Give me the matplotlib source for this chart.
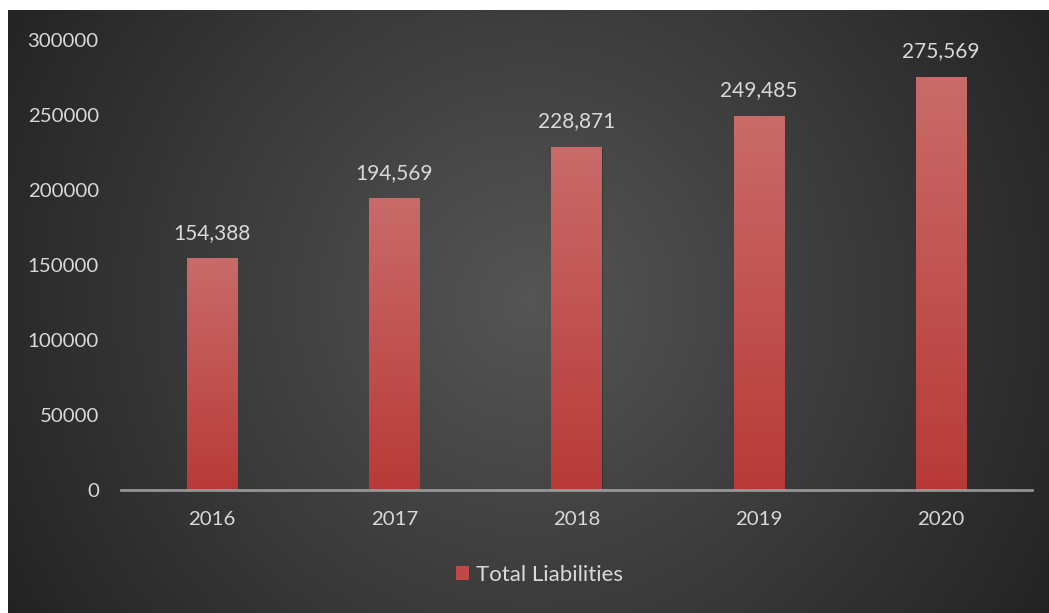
import numpy as np
import matplotlib
matplotlib.use("Agg")
import matplotlib.pyplot as plt
from matplotlib import patheffects as pe
from matplotlib.colors import LinearSegmentedColormap

years = ["2016", "2017", "2018", "2019", "2020"]
liabilities = [154388, 194569, 228871, 249485, 275569]
yticks = [0, 50000, 100000, 150000, 200000, 250000, 300000]
series_name = "Total Liabilities"

W, H = 1049, 613
text_color = "#D9D9D9"
plt.rcParams["font.family"] = ["Lato", "DejaVu Sans"]

fig = plt.figure(figsize=(W / 100, H / 100), dpi=100, facecolor="white")

# dark radial backdrop, lighter in the middle
bg = fig.add_axes([8 / W, 0, 1 - 8 / W, 1 - 10 / H])
bg.set_axis_off()
bw, bh = W - 8, H - 10
xx, yy = np.meshgrid(np.arange(bw), np.arange(bh))
d = np.hypot(xx - 522, yy - 290)
shade = np.clip(85 - 49 * d / 597, 30, 90) / 255
bg.imshow(np.dstack([shade, shade, shade]), aspect="auto", interpolation="bilinear")

ax = fig.add_axes([121 / W, 123 / H, (1032 - 121) / W, (490 - 40) / H])
ax.patch.set_alpha(0)
x = np.arange(len(years))
bars = ax.bar(x, liabilities, width=0.275, color="#B93D3B", zorder=2,
              path_effects=[pe.SimplePatchShadow(offset=(0.8, -1.2), shadow_rgbFace="black", alpha=0.25),
                            pe.Normal()])

# vertical red gradient inside each bar
bar_cmap = LinearSegmentedColormap.from_list("bar", ["#B83A38", "#C96B69"])
grad = np.linspace(0, 1, 256).reshape(-1, 1)
for rect in bars:
    x0, w, h = rect.get_x(), rect.get_width(), rect.get_height()
    im = ax.imshow(grad, cmap=bar_cmap, origin="lower", aspect="auto",
                   extent=(x0, x0 + w, 0, h), zorder=3)
    im.set_clip_path(rect)

for xi, v in zip(x, liabilities):
    ax.annotate(f"{v:,}", (xi, v), xytext=(0, 11), textcoords="offset points",
                ha="center", va="bottom", color=text_color, fontsize=15)

ax.set_xlim(-0.5, len(years) - 0.5)
ax.set_ylim(0, 300000)
ax.set_xticks(x, years)
ax.set_yticks(yticks, [str(t) for t in yticks])
ax.tick_params(axis="both", length=0, colors=text_color, labelsize=14.7)
ax.tick_params(axis="y", pad=16)
ax.tick_params(axis="x", pad=15)
for side in ["top", "right", "left"]:
    ax.spines[side].set_visible(False)
ax.spines["bottom"].set_color("#A6A6A6")
ax.spines["bottom"].set_alpha(0.85)
ax.spines["bottom"].set_linewidth(2)
ax.spines["bottom"].set_zorder(5)

handle = plt.Rectangle((0, 0), 1, 1, facecolor="#C04846")
leg = fig.legend([handle], [series_name], loc="center", bbox_to_anchor=(539 / W, 1 - 575 / H),
                 frameon=False, fontsize=16, handlelength=0.6, handleheight=0.6,
                 handletextpad=0.3, labelcolor=text_color)

fig.savefig("out.png", dpi=100, facecolor="white")
